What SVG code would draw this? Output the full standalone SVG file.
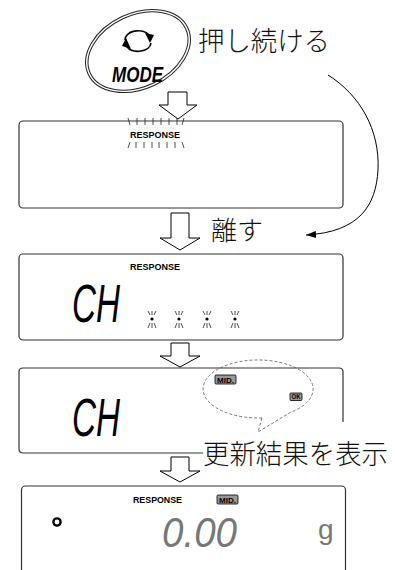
<svg xmlns="http://www.w3.org/2000/svg" xmlns:xlink="http://www.w3.org/1999/xlink" width="395" height="570" viewBox="0 0 395 570">
<style>
.panel{fill:#fff;stroke:#333;stroke-width:1.2}
.blk{fill:#fff;stroke:#000;stroke-width:1}
.jp{font-family:"Noto Sans CJK JP",sans-serif;font-weight:300;fill:#111}
.resp{font-family:"Liberation Sans",Arial,sans-serif;font-weight:bold;font-size:9px;fill:#000}
.seg{font-family:"Liberation Sans",Arial,sans-serif;font-style:italic}
.tag{font-family:"Liberation Sans",Arial,sans-serif;font-weight:bold;font-size:7px;fill:#000}
.tagbox{fill:#999;stroke:#000;stroke-width:0.8}
.flash{stroke:#222;stroke-width:0.8;fill:none}
</style>
<defs>
<g id="star">
<circle cx="0" cy="0" r="1.6" fill="#000"/>
<path class="flash" d="M-4,-8 L-2,-4 M0,-8 V-4 M4,-8 L2,-4 M-2,4 L-4,9 M0,4 V9 M2,4 L4,9"/>
</g>
<marker id="ah" markerUnits="userSpaceOnUse" markerWidth="11" markerHeight="7" refX="10" refY="3.5" orient="auto">
<path d="M0,0 L10,3.5 L0,7 z" fill="#000"/>
</marker>
</defs>

<g id="mode-button">
<ellipse cx="138" cy="51" rx="55" ry="38" transform="rotate(-25 138 51)" fill="none" stroke="#222" stroke-width="1"/>
<ellipse cx="138" cy="51" rx="52.5" ry="35.5" transform="rotate(-25 138 51)" fill="none" stroke="#222" stroke-width="1"/>
<path d="M125,40 A13,9 0 0 1 149,35" fill="none" stroke="#000" stroke-width="1.7"/>
<path d="M145,33 L154,35 L150,43 z" fill="#000"/>
<path d="M151,43 A13,9 0 0 1 127,47" fill="none" stroke="#000" stroke-width="1.7"/>
<path d="M131,49 L122,46 L126,38 z" fill="#000"/>
<text x="112" y="82" font-family="Liberation Sans,Arial,sans-serif" font-weight="bold" font-style="italic" font-size="22" textLength="51" lengthAdjust="spacingAndGlyphs" fill="#000">MODE</text>
</g>
<g id="label-press">
<text class="jp" x="198" y="51" font-size="27" textLength="132" lengthAdjust="spacingAndGlyphs">押し続ける</text>
</g>

<g id="display1">
<rect class="panel" x="19" y="121" width="324" height="87" rx="4"/>
<text class="resp" x="130" y="138" textLength="50" lengthAdjust="spacingAndGlyphs">RESPONSE</text>
<path class="flash" d="M128,118 L130,125 M137,118 V125 M145,118 V125 M153,118 V125 M161,118 V125 M169,118 V125 M177,118 V125 M184,118 L182,125"/>
<path class="flash" d="M130,142 L128,148 M136,142 V148 M144,142 V148 M152,142 V148 M159,142 V148 M167,142 V148 M175,142 V148 M182,142 L184,148"/>
</g>

<g id="display2">
<rect class="panel" x="19" y="254" width="324" height="86" rx="4"/>
<text class="resp" x="130" y="270" textLength="50" lengthAdjust="spacingAndGlyphs">RESPONSE</text>
<text class="seg" x="72" y="322" font-size="54" textLength="48" lengthAdjust="spacingAndGlyphs" fill="#000">CH</text>
<use xlink:href="#star" x="152" y="319"/>
<use xlink:href="#star" x="179" y="319"/>
<use xlink:href="#star" x="207" y="319"/>
<use xlink:href="#star" x="235" y="319"/>
</g>

<g id="display3">
<path class="panel" fill="none" d="M203,453 H23 Q19,453 19,449 V372 Q19,368 23,368 H339 Q343,368 343,372 V422"/>
<text class="seg" x="72" y="436" font-size="54" textLength="48" lengthAdjust="spacingAndGlyphs" fill="#000">CH</text>
</g>

<g id="callout">
<path d="M262,417.9 A55,29 0 1 1 290,412.6 L258,432 Z" fill="none" stroke="#555" stroke-width="0.8" stroke-dasharray="3,2"/>
<rect class="tagbox" x="215" y="375" width="21" height="9" rx="1"/>
<text class="tag" x="217" y="382.5" textLength="17" lengthAdjust="spacingAndGlyphs">MID.</text>
<rect class="tagbox" x="290" y="393" width="12" height="7.5" rx="1"/>
<text class="tag" x="291.5" y="399.3" font-size="6" textLength="9" lengthAdjust="spacingAndGlyphs">OK</text>
</g>
<g id="label-result">
<text class="jp" x="203" y="464" font-size="27.5" textLength="185" lengthAdjust="spacingAndGlyphs">更新結果を表示</text>
</g>

<g id="display4">
<rect class="panel" x="21.5" y="486" width="324" height="100" rx="4"/>
<circle cx="57" cy="522" r="3.6" fill="none" stroke="#000" stroke-width="2.4"/>
<text class="resp" x="133" y="503" textLength="49" lengthAdjust="spacingAndGlyphs">RESPONSE</text>
<rect class="tagbox" x="217" y="495" width="21" height="9" rx="1"/>
<text class="tag" x="219" y="502.5" textLength="17" lengthAdjust="spacingAndGlyphs">MID.</text>
<text class="seg" x="162" y="547" font-size="42" textLength="75" lengthAdjust="spacingAndGlyphs" fill="#777">0.00</text>
<text x="318" y="539" font-family="Liberation Sans,Arial,sans-serif" font-size="28" fill="#777">g</text>
</g>

<g id="label-release">
<text class="jp" x="211" y="240" font-size="26" textLength="52" lengthAdjust="spacingAndGlyphs">離す</text>
</g>

<g id="connectors">
<path class="blk" d="M168,92 H187 V105 H197 L178,119 L159,105 H168 Z"/>
<path class="blk" d="M171,213 H189 V238 H200 L180,250 L160,238 H171 Z"/>
<path class="blk" d="M171,343 H189 V356 H200 L180,367 L160,356 H171 Z"/>
<path class="blk" d="M171,457 H189 V471 H200 L180,482 L160,471 H171 Z"/>
<path d="M328,75 C360,95 380,130 378,170 C376,205 360,232 306,235" fill="none" stroke="#000" stroke-width="1" marker-end="url(#ah)"/>
</g>
</svg>
